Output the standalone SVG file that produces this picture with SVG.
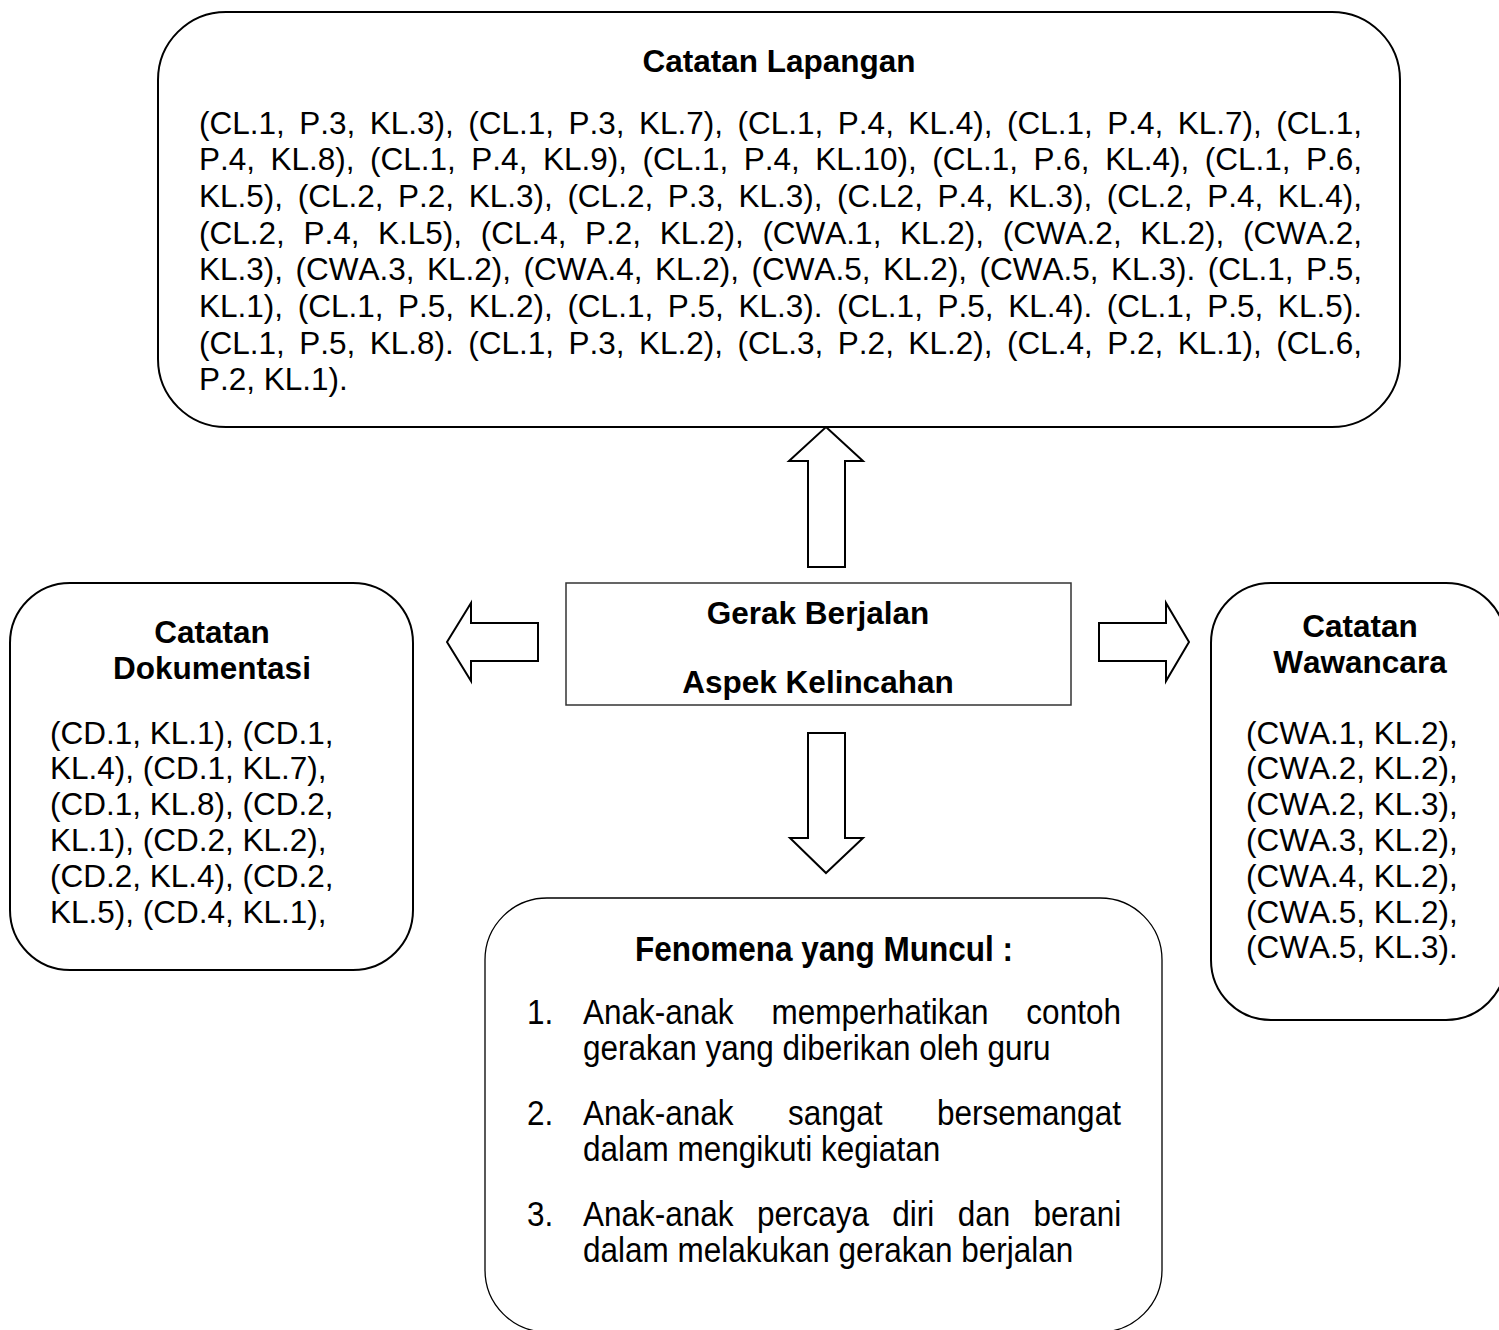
<svg xmlns="http://www.w3.org/2000/svg" width="1499" height="1330" viewBox="0 0 1499 1330">
<style>
.box{fill:#fff;stroke:#000;stroke-width:2}
.thin{fill:#fff;stroke:#000;stroke-width:1.3}
.rect{fill:#fff;stroke:#333;stroke-width:1.5}
.arrow{fill:#fff;stroke:#000;stroke-width:2;stroke-linejoin:miter}
text{font-family:"Liberation Sans",Arial,sans-serif;font-size:31.5px;fill:#000;font-kerning:none}
.b{font-weight:bold}
.c{text-anchor:middle}
</style>
<rect width="1499" height="1330" fill="#fff"/>

<g id="connectors">
  <polygon class="arrow" points="826,427 863,461 845,461 845,567 808,567 808,461 789,461"/>
  <polygon class="arrow" points="447,642 471,603 471,623 538,623 538,661 471,661 471,681"/>
  <polygon class="arrow" points="1189,642 1166,603 1166,623 1099,623 1099,661 1166,661 1166,681"/>
  <polygon class="arrow" points="826,873 863,838 845,838 845,733 808,733 808,838 790,838"/>
</g>

<g id="catatan-lapangan">
  <rect class="box" x="158" y="12" width="1242" height="415" rx="68" ry="68"/>
  <text class="b c" x="779" y="72">Catatan Lapangan</text>
  <text x="199" y="133.5" style="word-spacing:5.73px">(CL.1, P.3, KL.3), (CL.1, P.3, KL.7), (CL.1, P.4, KL.4), (CL.1, P.4, KL.7), (CL.1,</text>
  <text x="199" y="170.2" style="word-spacing:6.75px">P.4, KL.8), (CL.1, P.4, KL.9), (CL.1, P.4, KL.10), (CL.1, P.6, KL.4), (CL.1, P.6,</text>
  <text x="199" y="206.9" style="word-spacing:5.87px">KL.5), (CL.2, P.2, KL.3), (CL.2, P.3, KL.3), (C.L2, P.4, KL.3), (CL.2, P.4, KL.4),</text>
  <text x="199" y="243.6" style="word-spacing:9.86px">(CL.2, P.4, K.L5), (CL.4, P.2, KL.2), (CWA.1, KL.2), (CWA.2, KL.2), (CWA.2,</text>
  <text x="199" y="280.3" style="word-spacing:3.74px">KL.3), (CWA.3, KL.2), (CWA.4, KL.2), (CWA.5, KL.2), (CWA.5, KL.3). (CL.1, P.5,</text>
  <text x="199" y="317" style="word-spacing:5.87px">KL.1), (CL.1, P.5, KL.2), (CL.1, P.5, KL.3). (CL.1, P.5, KL.4). (CL.1, P.5, KL.5).</text>
  <text x="199" y="353.7" style="word-spacing:5.73px">(CL.1, P.5, KL.8). (CL.1, P.3, KL.2), (CL.3, P.2, KL.2), (CL.4, P.2, KL.1), (CL.6,</text>
  <text x="199" y="390.4">P.2, KL.1).</text>
</g>

<g id="gerak-berjalan">
  <rect class="rect" x="566" y="583" width="505" height="122"/>
  <text class="b c" x="818" y="624">Gerak Berjalan</text>
  <text class="b c" x="818" y="693">Aspek Kelincahan</text>
</g>

<g id="catatan-dokumentasi">
  <rect class="box" x="10" y="583" width="403" height="387" rx="60" ry="60"/>
  <text class="b c" x="212" y="643">Catatan</text>
  <text class="b c" x="212" y="679">Dokumentasi</text>
  <text x="50" y="743.5">(CD.1, KL.1), (CD.1,</text>
  <text x="50" y="779.3">KL.4), (CD.1, KL.7),</text>
  <text x="50" y="815.1">(CD.1, KL.8), (CD.2,</text>
  <text x="50" y="850.9">KL.1), (CD.2, KL.2),</text>
  <text x="50" y="886.7">(CD.2, KL.4), (CD.2,</text>
  <text x="50" y="922.5">KL.5), (CD.4, KL.1),</text>
</g>

<g id="catatan-wawancara">
  <rect class="box" x="1211" y="583" width="295" height="437" rx="60" ry="60"/>
  <text class="b c" x="1360" y="637">Catatan</text>
  <text class="b c" x="1360" y="673">Wawancara</text>
  <text x="1246" y="743.5">(CWA.1, KL.2),</text>
  <text x="1246" y="779.3">(CWA.2, KL.2),</text>
  <text x="1246" y="815.1">(CWA.2, KL.3),</text>
  <text x="1246" y="850.9">(CWA.3, KL.2),</text>
  <text x="1246" y="886.7">(CWA.4, KL.2),</text>
  <text x="1246" y="922.5">(CWA.5, KL.2),</text>
  <text x="1246" y="958.3">(CWA.5, KL.3).</text>
</g>

<g id="fenomena">
  <rect class="thin" x="485" y="898" width="677" height="434" rx="62" ry="62"/>
  <text class="b c" transform="translate(824,960.5) scale(1,1.1)">Fenomena yang Muncul :</text>
  <text transform="translate(527,1023.5) scale(1,1.1)">1.</text>
  <text transform="translate(583,1023.5) scale(1,1.1)" style="word-spacing:29.1px">Anak-anak memperhatikan contoh</text>
  <text transform="translate(583,1059.5) scale(1,1.1)">gerakan yang diberikan oleh guru</text>
  <text transform="translate(527,1124.5) scale(1,1.1)">2.</text>
  <text transform="translate(583,1124.5) scale(1,1.1)" style="word-spacing:45.7px">Anak-anak sangat bersemangat</text>
  <text transform="translate(583,1160.5) scale(1,1.1)">dalam mengikuti kegiatan</text>
  <text transform="translate(527,1225.5) scale(1,1.1)">3.</text>
  <text transform="translate(583,1225.5) scale(1,1.1)" style="word-spacing:14.6px">Anak-anak percaya diri dan berani</text>
  <text transform="translate(583,1261.5) scale(1,1.1)">dalam melakukan gerakan berjalan</text>
</g>
</svg>
